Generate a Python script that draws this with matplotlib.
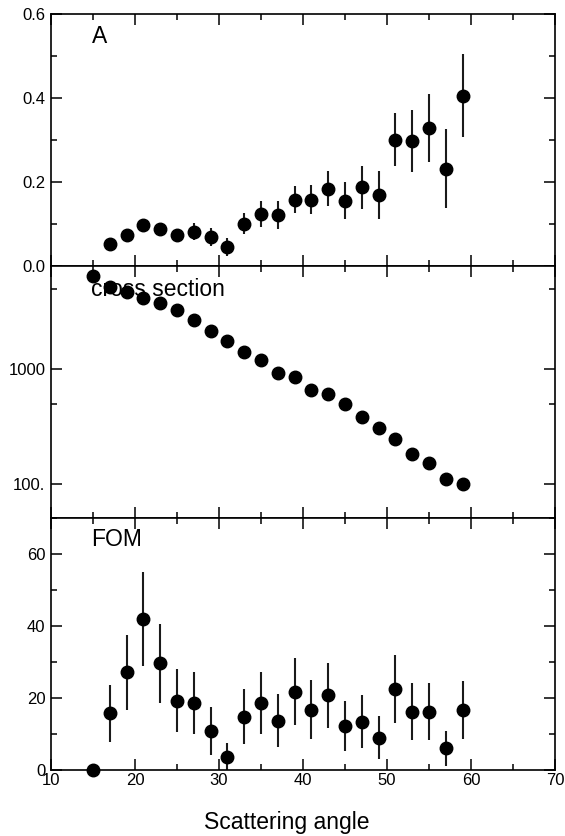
import numpy as np
import matplotlib
matplotlib.use("Agg")
import matplotlib.pyplot as plt
from matplotlib.ticker import FixedLocator, NullFormatter, MultipleLocator

plt.rcParams['font.family'] = ['Liberation Sans', 'DejaVu Sans']

angle = [15, 17, 19, 21, 23, 25, 27, 29, 31, 33, 35, 37, 39, 41, 43, 45, 47, 49, 51, 53, 55, 57, 59]

asym = [np.nan, 0.053, 0.075, 0.098, 0.088, 0.075, 0.082, 0.069, 0.045, 0.101, 0.124, 0.121, 0.158,
        0.158, 0.184, 0.155, 0.187, 0.170, 0.301, 0.297, 0.329, 0.232, 0.405]
asym_err = [np.nan, 0.008, 0.010, 0.010, 0.012, 0.014, 0.020, 0.022, 0.022, 0.026, 0.030, 0.033, 0.033,
            0.034, 0.041, 0.044, 0.051, 0.057, 0.064, 0.074, 0.081, 0.095, 0.099]

xsec = [6580, 5270, 4710, 4230, 3820, 3300, 2700, 2175, 1767, 1408, 1206, 922, 861,
        668, 608, 504, 386, 309, 246, 184.5, 153, 111.5, 100.7]

fom = [0.0, 15.7, 27.1, 41.9, 29.6, 19.3, 18.7, 10.8, 3.7, 14.8, 18.7, 13.7, 21.8,
       16.8, 20.8, 12.2, 13.4, 9.0, 22.5, 16.2, 16.2, 6.0, 16.7]
fom_err = [0.0, 7.9, 10.4, 13.0, 10.9, 8.8, 8.6, 6.6, 3.8, 7.7, 8.6, 7.4, 9.3,
           8.2, 9.0, 6.9, 7.4, 5.9, 9.4, 8.0, 8.0, 4.9, 8.0]

W, H = 565, 836
fig = plt.figure(figsize=(W / 100, H / 100), dpi=100)

left = 51 / W
width = (555 - 51) / W
edges = [14, 266, 518, 770]

axes = []
for i in range(3):
    top, bot = edges[i], edges[i + 1]
    ax = fig.add_axes([left, 1 - bot / H, width, (bot - top) / H])
    axes.append(ax)

ms = 9
mkw = dict(fmt='o', color='black', ecolor='#1a1a1a', ms=ms, elinewidth=1.5, capsize=0)

for ax in axes:
    ax.set_xlim(10, 70)
    ax.xaxis.set_major_locator(MultipleLocator(10))
    ax.xaxis.set_minor_locator(MultipleLocator(5))
    ax.tick_params(which='both', direction='in', top=True, right=True, width=1.1, labelsize=12)
    ax.tick_params(axis='y', pad=4)
    ax.tick_params(axis='x', pad=2.5)
    ax.tick_params(which='major', length=8)
    ax.tick_params(which='minor', length=4.5)
    for s in ax.spines.values():
        s.set_linewidth(1.2)

label_fs = 16.5

# Top: A
ax = axes[0]
ax.errorbar(angle, asym, yerr=asym_err, **mkw)
ax.set_ylim(0, 0.6)
ax.yaxis.set_minor_locator(MultipleLocator(0.1))
ax.set_yticks([0.0, 0.2, 0.4, 0.6])
ax.set_yticklabels(['0.0', '0.2', '0.4', '0.6'])
ax.tick_params(labelbottom=False)
ax.text(0.081, 0.91, 'A', transform=ax.transAxes, fontsize=label_fs, va='center', ha='left')

# Middle: cross section
ax = axes[1]
ax.plot(angle, xsec, 'o', color='black', ms=ms)
ax.set_yscale('log')
ax.set_ylim(50.5, 8000)
ax.yaxis.set_major_locator(FixedLocator([100, 1000]))
ax.yaxis.set_minor_locator(FixedLocator([500, 5000]))
ax.yaxis.set_minor_formatter(NullFormatter())
ax.set_yticks([100, 1000])
ax.set_yticklabels(['100.', '1000'])
ax.tick_params(labelbottom=False)
ax.text(0.080, 0.905, 'cross section', transform=ax.transAxes, fontsize=label_fs, va='center', ha='left')

# Bottom: FOM
ax = axes[2]
ax.errorbar(angle, fom, yerr=fom_err, clip_on=False, **mkw)
ax.set_ylim(0, 70)
ax.yaxis.set_major_locator(MultipleLocator(20))
ax.yaxis.set_minor_locator(MultipleLocator(10))
ax.text(0.080, 0.913, 'FOM', transform=ax.transAxes, fontsize=label_fs, va='center', ha='left')

fig.text(287 / W, 1 - 823 / H, 'Scattering angle', fontsize=16.5, ha='center', va='center')

fig.savefig('out.png', dpi=100)
